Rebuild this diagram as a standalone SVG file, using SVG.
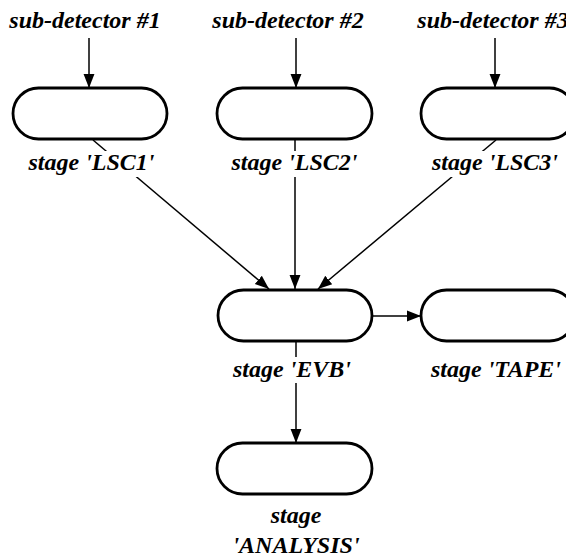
<svg xmlns="http://www.w3.org/2000/svg" width="566" height="560" viewBox="0 0 566 560">
<defs>
<marker id="ah" markerWidth="14" markerHeight="18" refX="18" refY="7" viewBox="0 0 18 14" markerUnits="userSpaceOnUse" orient="auto">
<path d="M0,0 L18,7 L0,14 Z" fill="#000"/>
</marker>
<style>
.box{fill:#fff;stroke:#000;stroke-width:2.8}
.conn{stroke:#000;stroke-width:1.5;fill:none;marker-end:url(#ah)}
.lbl{font-family:"Liberation Serif","Times New Roman",serif;font-weight:bold;font-style:italic;font-size:24px;text-anchor:middle;fill:#000}
.mask{fill:#fff}
</style>
</defs>
<rect width="566" height="560" fill="#fff"/>
<g id="connectors">
<line class="conn" x1="89" y1="38" x2="89" y2="88"/>
<line class="conn" x1="296" y1="38" x2="296" y2="88"/>
<line class="conn" x1="495" y1="38" x2="495" y2="88"/>
<line class="conn" x1="93" y1="140" x2="269" y2="289"/>
<line class="conn" x1="295" y1="140" x2="295" y2="289"/>
<line class="conn" x1="496" y1="140" x2="318" y2="289"/>
<line class="conn" x1="372" y1="316" x2="421" y2="316"/>
<line class="conn" x1="296" y1="341" x2="296" y2="443"/>
</g>
<g id="src1"><text class="lbl" x="85" y="28">sub-detector #1</text></g>
<g id="src2"><text class="lbl" x="288" y="28">sub-detector #2</text></g>
<g id="src3"><text class="lbl" x="493" y="28">sub-detector #3</text></g>
<g id="lsc1">
<rect class="box" x="13" y="88" width="154" height="51" rx="25.5"/>
<rect class="mask" x="28" y="151" width="128" height="26"/>
<text class="lbl" x="91.5" y="170">stage 'LSC1'</text>
</g>
<g id="lsc2">
<rect class="box" x="217" y="88" width="155" height="51" rx="25.5"/>
<rect class="mask" x="231" y="151" width="127" height="26"/>
<text class="lbl" x="294.5" y="170">stage 'LSC2'</text>
</g>
<g id="lsc3">
<rect class="box" x="421" y="88" width="154" height="51" rx="25.5"/>
<rect class="mask" x="430" y="151" width="130" height="26"/>
<text class="lbl" x="495" y="170">stage 'LSC3'</text>
</g>
<g id="evb">
<rect class="box" x="218" y="290" width="154" height="51" rx="25.5"/>
<rect class="mask" x="231" y="357" width="122" height="26"/>
<text class="lbl" x="292" y="377">stage 'EVB'</text>
</g>
<g id="tape">
<rect class="box" x="421" y="290" width="154" height="51" rx="25.5"/>
<text class="lbl" x="496" y="377">stage 'TAPE'</text>
</g>
<g id="analysis">
<rect class="box" x="217" y="443" width="155" height="51" rx="25.5"/>
<text class="lbl" x="296" y="523">stage</text>
<text class="lbl" x="296" y="553">'ANALYSIS'</text>
</g>
</svg>
